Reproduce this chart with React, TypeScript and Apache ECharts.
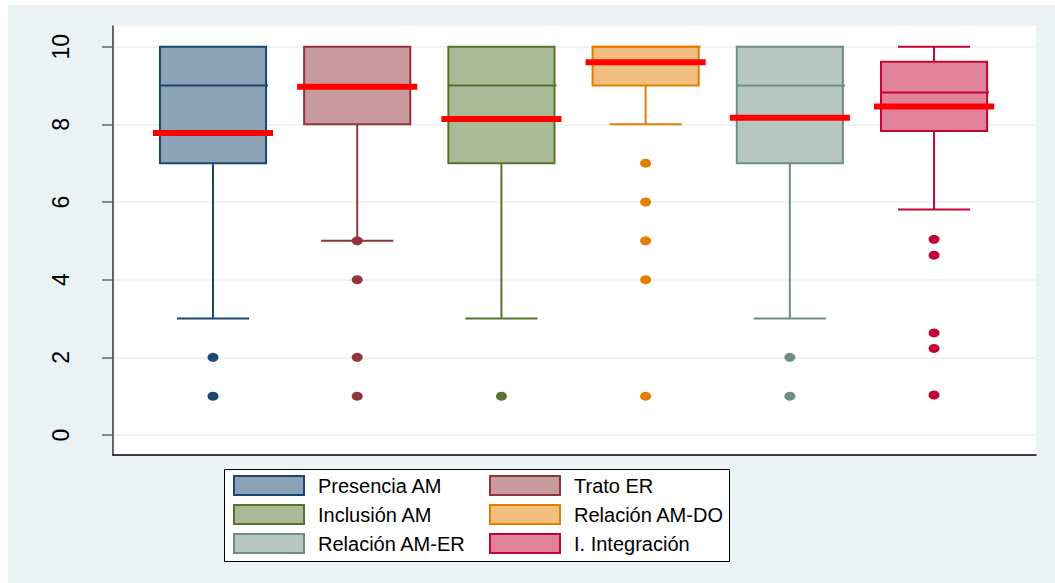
import React, { useEffect, useRef } from "react";
import * as echarts from "echarts";

const categories = ["Presencia AM", "Trato ER", "Inclusión AM", "Relación AM-DO", "Relación AM-ER", "I. Integración"];
const whiskerLow = [3, 5, 3, 8, 3, 5.81];
const q1 = [7, 8, 7, 9, 7, 7.83];
const medians = [9, 9, 9, 10, 9, 8.82];
const q3 = [10, 10, 10, 10, 10, 9.61];
const whiskerHigh = [10, 10, 10, 10, 10, 10];
const means = [7.78, 8.97, 8.14, 9.6, 8.17, 8.46];
const outliers = [[2, 1], [5, 4, 2, 1], [1], [7, 6, 5, 4, 1], [2, 1], [5.04, 4.63, 2.63, 2.23, 1.03]];
const lineColors = ["#1A476F", "#90353B", "#55752F", "#E37E00", "#6E8E84", "#C10534"];
const fillColors = ["#8CA3B7", "#C89A9D", "#AABA97", "#F1BE7F", "#B6C6C1", "#E08299"];
const yTickMin = 0;
const yTickMax = 10;
const yTickStep = 2;

const FONT = "'Liberation Sans', Arial, sans-serif";

export default function App() {
  const ref = useRef<HTMLDivElement>(null);
  useEffect(() => {
    if (!ref.current) return;
    const chart = echarts.init(ref.current, null, { renderer: "svg" });
    const gridLeft = 105, gridTop = 21, gridW = 923, gridH = 429;
    const yMin = -0.515, yMax = 10.533;
    const k = gridH / (yMax - yMin);
    const innerTop = gridTop + (yMax - yTickMax) * k;
    const innerH = (yTickMax - yTickMin) * k;

    const series: any[] = [];
    categories.forEach((name, i) => {
      series.push({
        type: "custom",
        name,
        xAxisIndex: 0,
        yAxisIndex: 0,
        z: 2,
        encode: { x: 0, y: 1 },
        data: [[i, whiskerLow[i], q1[i], medians[i], q3[i], whiskerHigh[i], means[i]]],
        renderItem: (params: any, api: any) => {
          const x = api.value(0);
          const c = (v: number) => api.coord([x, v]);
          const unit = api.size([1, 0])[0];
          const [cx, yWl] = c(api.value(1));
          const yQ1 = c(api.value(2))[1];
          const yMed = c(api.value(3))[1];
          const yQ3 = c(api.value(4))[1];
          const yWh = c(api.value(5))[1];
          const yMean = c(api.value(6))[1];
          const bw = unit * 0.736, cw = unit * 0.5, mw = unit * 0.833;
          const stroke = lineColors[i];
          const ls = { stroke, lineWidth: 2 };
          const children: any[] = [];
          if (yWl - yQ1 > 0.5) {
            children.push({ type: "line", shape: { x1: cx, y1: yQ1, x2: cx, y2: yWl }, style: ls });
            children.push({ type: "line", shape: { x1: cx - cw / 2, y1: yWl, x2: cx + cw / 2, y2: yWl }, style: ls });
          }
          if (yQ3 - yWh > 0.5) {
            children.push({ type: "line", shape: { x1: cx, y1: yQ3, x2: cx, y2: yWh }, style: ls });
            children.push({ type: "line", shape: { x1: cx - cw / 2, y1: yWh, x2: cx + cw / 2, y2: yWh }, style: ls });
          }
          children.push({
            type: "rect",
            shape: { x: cx - bw / 2, y: yQ3, width: bw, height: yQ1 - yQ3 },
            style: { fill: fillColors[i], stroke, lineWidth: 2 },
          });
          children.push({ type: "line", shape: { x1: cx - bw / 2, y1: yMed, x2: cx + bw / 2 + 2, y2: yMed }, style: ls });
          children.push({
            type: "line",
            shape: { x1: cx - mw / 2, y1: yMean, x2: cx + mw / 2, y2: yMean },
            style: { stroke: "#FF0000", lineWidth: 6 },
          });
          return { type: "group", children };
        },
      });
      series.push({
        type: "scatter",
        name: name + " (outliers)",
        xAxisIndex: 0,
        yAxisIndex: 0,
        z: 3,
        symbol: "circle",
        symbolSize: [11, 9],
        itemStyle: { color: lineColors[i], opacity: 1 },
        data: outliers[i].map((v) => [i, v]),
      });
    });

    const legendBase = {
      orient: "vertical",
      top: 470,
      padding: 0,
      itemGap: 8,
      itemWidth: 70,
      itemHeight: 19,
      selectedMode: false,
      textStyle: { fontSize: 20, fontFamily: FONT, color: "#000", padding: [0, 0, 0, 9], lineHeight: 19 },
    };
    const legendItem = (i: number) => ({
      name: categories[i],
      icon: "rect",
      itemStyle: { color: fillColors[i], borderColor: lineColors[i], borderWidth: 2 },
    });

    chart.setOption({
      animation: false,
      backgroundColor: "#EAF2F3",
      grid: [
        { left: gridLeft, top: gridTop, width: gridW, height: gridH, show: true, backgroundColor: "#FFFFFF", borderWidth: 0 },
        { left: gridLeft, top: innerTop, width: gridW, height: innerH, show: false },
      ],
      xAxis: [
        {
          type: "value",
          gridIndex: 0,
          min: -0.6935,
          max: 5.707,
          axisLine: { show: true, onZero: false, lineStyle: { color: "#000", width: 1.5 } },
          axisTick: { show: false },
          axisLabel: { show: false },
          splitLine: { show: false },
        },
        { type: "value", gridIndex: 1, show: false, min: 0, max: 1 },
      ],
      yAxis: [
        {
          type: "value",
          gridIndex: 0,
          min: yMin,
          max: yMax,
          axisLine: { show: true, onZero: false, lineStyle: { color: "#333", width: 1.5 } },
          axisTick: { show: false },
          axisLabel: { show: false },
          splitLine: { show: false },
        },
        {
          type: "value",
          gridIndex: 1,
          min: yTickMin,
          max: yTickMax,
          interval: yTickStep,
          axisLine: { show: false },
          axisTick: { show: true, length: 11, lineStyle: { color: "#666", width: 1.5 } },
          axisLabel: { show: true, rotate: 90, fontSize: 23, fontFamily: FONT, color: "#000", margin: 41 },
          splitLine: { show: true, lineStyle: { color: "#E8EFF1", width: 1.5 } },
        },
      ],
      legend: [
        { ...legendBase, left: 225, data: [0, 2, 4].map(legendItem) },
        { ...legendBase, left: 481, data: [1, 3, 5].map(legendItem) },
      ],
      graphic: [
        {
          type: "rect",
          z: 0,
          shape: { x: 216.5, y: 464.5, width: 505, height: 92 },
          style: { fill: "#fff", stroke: "#000", lineWidth: 1 },
        },
      ],
      series,
    });
    return () => chart.dispose();
  }, []);
  return (
    <div
      ref={ref}
      style={{ position: "absolute", left: 8, top: 5, width: 1047, height: 578 }}
    />
  );
}
